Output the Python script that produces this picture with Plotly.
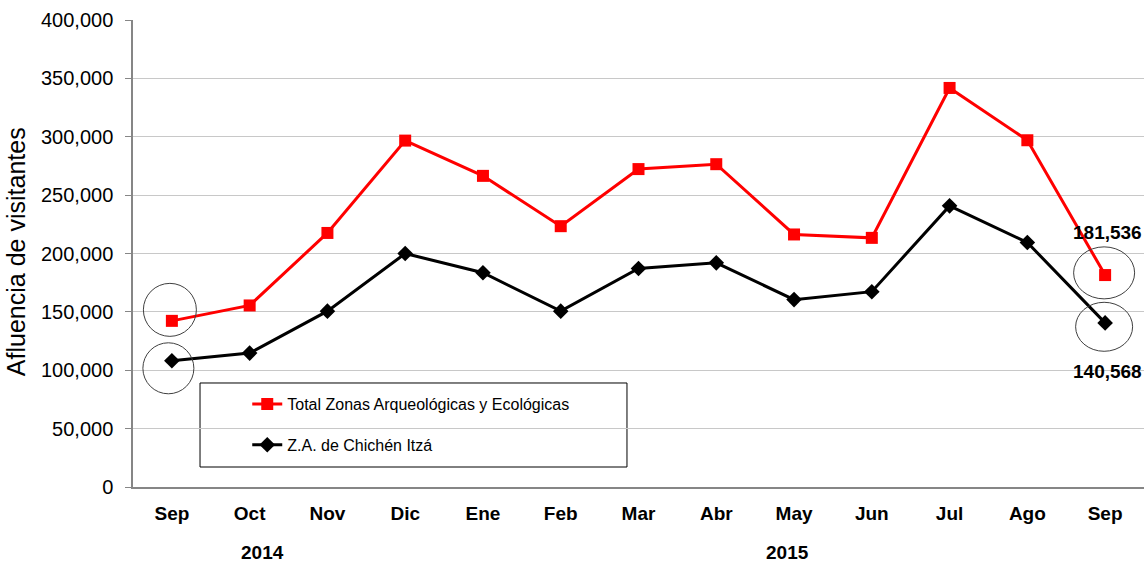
import plotly.graph_objects as go

months = ["Sep", "Oct", "Nov", "Dic", "Ene", "Feb", "Mar", "Abr", "May", "Jun", "Jul", "Ago", "Sep"]
total_zonas = [142300, 155500, 217600, 296700, 266500, 223400, 272300, 276500, 216300, 213400, 341800, 297000, 181536]
chichen_itza = [108100, 114700, 150600, 200000, 183500, 150600, 187200, 192000, 160500, 167300, 240800, 209400, 140568]
name_total = "Total Zonas Arqueológicas y Ecológicas"
name_chichen = "Z.A. de Chichén Itzá"
y_ticks = [0, 50000, 100000, 150000, 200000, 250000, 300000, 350000, 400000]

FONT = "Arial, Liberation Sans, sans-serif"
x_idx = list(range(len(months)))

fig = go.Figure()
fig.add_trace(go.Scatter(
    x=x_idx, y=total_zonas, name=name_total, mode="lines+markers",
    line=dict(color="#ff0000", width=3),
    marker=dict(symbol="square", size=12, color="#ff0000"),
    legendgroup="a",
))
fig.add_trace(go.Scatter(
    x=x_idx, y=chichen_itza, name=name_chichen, mode="lines+markers",
    line=dict(color="#000000", width=3),
    marker=dict(symbol="diamond", size=12, color="#000000"),
    legendgroup="b",
))

# legend box
fig.add_shape(type="rect", xref="paper", yref="paper",
              x0=0.0663, x1=0.4886, y0=0.0428, y1=0.2227,
              line=dict(color="#000000", width=1), fillcolor="white", layer="below")

# highlight circles anchored to the data points (pixel offsets)
circles = [
    (0, total_zonas[0], -28.5, 24.5, -15.5, 37.5),
    (0, chichen_itza[0], -29, 22, -33, 18),
    (12, total_zonas[12], -31.5, 29.5, -23.8, 28.2),
    (12, chichen_itza[12], -29.5, 27.5, -28.4, 20.6),
]
for xa, ya, x0, x1, y0, y1 in circles:
    fig.add_shape(type="circle", xref="x", yref="y",
                  xsizemode="pixel", ysizemode="pixel",
                  xanchor=xa, yanchor=ya, x0=x0, x1=x1, y0=y0, y1=y1,
                  line=dict(color="#404040", width=1))

fig.add_annotation(x=12, y=total_zonas[12], text=f"<b>{total_zonas[12]:,}</b>", showarrow=False,
                   yshift=43, xshift=2, font=dict(family=FONT, size=19, color="#000000"))
fig.add_annotation(x=12, y=chichen_itza[12], text=f"<b>{chichen_itza[12]:,}</b>", showarrow=False,
                   yshift=-49, xshift=2, font=dict(family=FONT, size=19, color="#000000"))
fig.add_annotation(x=1.17, y=-0.141, xref="x", yref="paper", text="<b>2014</b>", showarrow=False,
                   yanchor="middle", font=dict(family=FONT, size=19, color="#000000"))
fig.add_annotation(x=7.92, y=-0.141, xref="x", yref="paper", text="<b>2015</b>", showarrow=False,
                   yanchor="middle", font=dict(family=FONT, size=19, color="#000000"))
fig.add_annotation(x=-0.1157, y=0.503, xref="paper", yref="paper", text="Afluencia de visitantes",
                   textangle=-90, showarrow=False, xanchor="center", yanchor="middle",
                   font=dict(family=FONT, size=25, color="#000000"))

fig.update_layout(
    width=1144, height=563,
    margin=dict(l=133, r=0, t=20, b=76, autoexpand=False),
    paper_bgcolor="white", plot_bgcolor="white",
    font=dict(family=FONT, color="#000000"),
    showlegend=True,
    legend=dict(x=0.113, y=0.214, xanchor="left", yanchor="top",
                bgcolor="rgba(0,0,0,0)", borderwidth=0,
                font=dict(family=FONT, size=16, color="#000000"),
                traceorder="grouped", tracegroupgap=17),
    xaxis=dict(
        range=[-0.5, 12.5], tickmode="array", tickvals=x_idx,
        ticktext=[f"<b>{m}</b>" for m in months],
        tickfont=dict(family=FONT, size=19, color="#000000"),
        showgrid=False, showline=True, linecolor="#868686", linewidth=1.5,
        ticks="", ticklabelstandoff=8, zeroline=False, automargin=False,
    ),
    yaxis=dict(
        range=[0, 400000], tickmode="array", tickvals=y_ticks,
        ticktext=[f"{v:,}" for v in y_ticks],
        tickfont=dict(family=FONT, size=20, color="#000000"),
        showgrid=True, gridcolor="#c8c8c8", gridwidth=1,
        showline=True, linecolor="#868686", linewidth=1.5,
        ticks="outside", ticklen=6, tickcolor="#868686",
        ticklabelstandoff=8, zeroline=False, automargin=False,
    ),
)

fig.write_html("out.html", config={"displayModeBar": False},
               post_script="document.body.style.margin='0';")
